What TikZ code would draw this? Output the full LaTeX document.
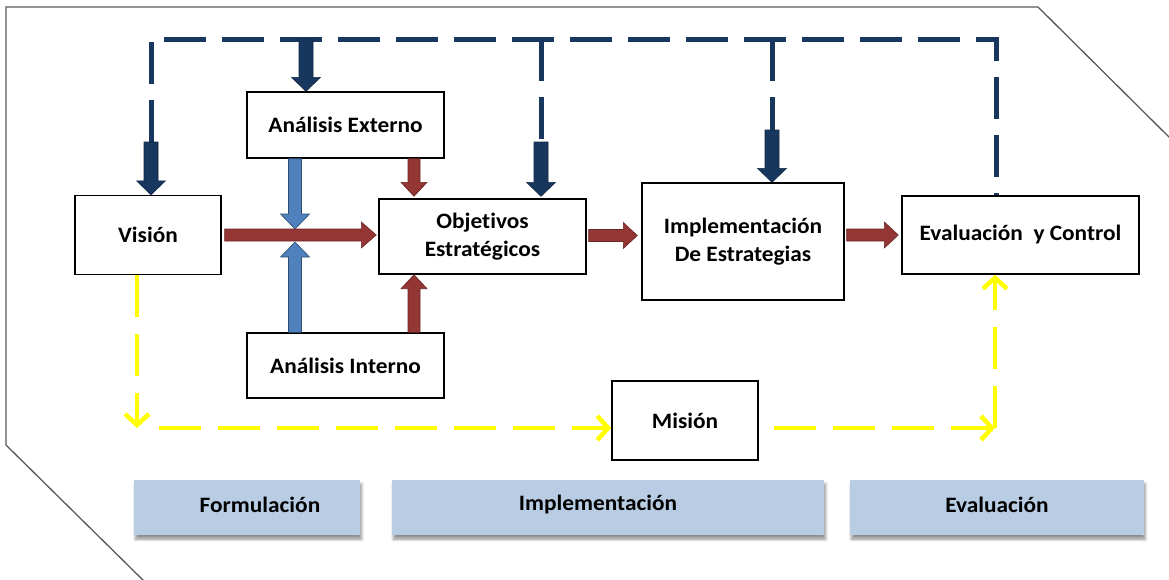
\documentclass[tikz,border=0pt]{standalone}
\usepackage{fontspec}
\setmainfont{Carlito}[FakeStretch=1.06,Ligatures=NoCommon]
\usetikzlibrary{calc,arrows.meta,shadows.blur}
\definecolor{navy}{HTML}{17375E}
\definecolor{dred}{HTML}{943634}
\definecolor{lblue}{HTML}{4F81BD}
\definecolor{barblue}{HTML}{B8CCE4}
\definecolor{yel}{HTML}{FFFF00}
\definecolor{framegray}{HTML}{595959}
% #1 style, #2 start, #3 end, #4 half shaft width, #5 half head width, #6 head length
\newcommand\blockarrow[6]{%
 \path[#1] let \p1=#2, \p2=#3, \n1={atan2(\y2-\y1,\x2-\x1)} in
 ($(\p1)+(\n1+90:#4)$) -- ($(\p2)+(\n1+180:#6)+(\n1+90:#4)$) -- ($(\p2)+(\n1+180:#6)+(\n1+90:#5)$) -- (\p2)
 -- ($(\p2)+(\n1+180:#6)+(\n1-90:#5)$) -- ($(\p2)+(\n1+180:#6)+(\n1-90:#4)$) -- ($(\p1)+(\n1-90:#4)$) -- cycle;}
\begin{document}
\begin{tikzpicture}[x=1pt,y=-1pt,
  box/.style={draw=black,line width=1.4pt,fill=white,align=center,inner sep=0pt,
    font=\fontsize{22}{28}\selectfont\bfseries},
  bar/.style={fill=barblue,inner sep=0pt,minimum height=55pt,
    blur shadow={shadow xshift=1.5pt,shadow yshift=-4pt,shadow blur radius=3pt,shadow opacity=45}},
  bartext/.style={font=\fontsize{22}{28}\selectfont\bfseries,inner sep=0pt},
  navydash/.style={draw=navy,line width=5pt,dash pattern=on 42pt off 16pt},
  yline/.style={draw=yel,line width=4.5pt,dash pattern=on 42pt off 17pt,
    -{Straight Barb[length=11pt,width=24pt]}},
  redarrow/.style={fill=dred,draw=dred!70!black,line width=0.6pt},
  bluearrow/.style={fill=lblue,draw=lblue!60!black,line width=0.6pt},
  navyarrow/.style={fill=navy,draw=navy!70!black,line width=0.6pt},
  framestyle/.style={draw=framegray,line width=1.3pt}]
\useasboundingbox (0,0) rectangle (1169,579);

% frame
\draw[framestyle] (148,585) -- (6,445) -- (6,7) -- (1038,7) -- (1176,144);

% boxes
\node[box,minimum width=146pt,minimum height=79pt] (vis) at (148,235) {Visión};
\node[box,minimum width=197pt,minimum height=66pt] (ae) at (345.5,125) {Análisis Externo};
\node[box,minimum width=197pt,minimum height=65pt] (ai) at (345.5,365.5) {Análisis Interno};
\node[box,minimum width=207pt,minimum height=75pt] (obj) at (482.5,236.5) {Objetivos\\Estratégicos};
\node[box,minimum width=202pt,minimum height=117pt] (impl) at (743,241.5) {Implementación\\De Estrategias};
\node[box,minimum width=237pt,minimum height=78pt] (ev) at (1020.5,235) {Evaluación \ y Control};
\node[box,minimum width=146pt,minimum height=79pt] (mis) at (685,420.5) {Misión};

% phase bars
\node[bar,minimum width=226pt] (fb) at (247,507.5) {};
\node[bar,minimum width=432pt] (ib) at (608,507.5) {};
\node[bar,minimum width=293.5pt] (eb) at (996.75,507.5) {};
\node[bartext] (ft) at (260,505) {Formulación};
\node[bartext] (it) at (598,505) {Implementación};
\node[bartext] (et) at (997,505) {Evaluación};

% helper coordinates
\coordinate (c1) at (151,39);
\coordinate (c2) at (996,39);
\coordinate (v1) at (151,142);
\coordinate (ob1) at (541,142);
\coordinate (im1) at (772,130);
\coordinate (ae1) at (306,39);
\coordinate (rx) at (414,236);
\coordinate (bx) at (295,236);
\coordinate (y1) at (137,428);
\coordinate (y2) at (995,428);

% navy dashed feedback
\draw[navydash] (v1) -- (c1) -- (c2) -- (c2 |- ev.north);
\draw[navydash] (ob1 |- c1) -- (ob1);
\draw[navydash] (im1 |- c1) -- (im1);

% navy block arrows
\blockarrow{navyarrow}{(v1)}{(v1 |- vis.north)}{7pt}{14.5pt}{14pt}
\blockarrow{navyarrow}{(ae1)}{(ae1 |- ae.north)}{7pt}{14.5pt}{14pt}
\blockarrow{navyarrow}{(ob1)}{($(ob1 |- obj.north)+(0,-2)$)}{7pt}{14.5pt}{14pt}
\blockarrow{navyarrow}{(im1)}{(im1 |- impl.north)}{7pt}{14.5pt}{14pt}

% blue block arrows
\blockarrow{bluearrow}{(ae.south -| bx)}{($(bx)+(0,-7)$)}{6.5pt}{14.5pt}{15pt}
\blockarrow{bluearrow}{(ai.north -| bx)}{($(bx)+(0,6)$)}{6.5pt}{14.5pt}{15pt}

% red block arrows
\blockarrow{redarrow}{($(vis.east)+(3,0)$)}{($(vis.east -| obj.west)+(-2,0)$)}{6pt}{13pt}{15pt}
\blockarrow{redarrow}{($(obj.east)+(2,-1)$)}{($(obj.east -| impl.west)+(-4,-1)$)}{6pt}{13pt}{14pt}
\blockarrow{redarrow}{($(ev.west -| impl.east)+(2,0)$)}{($(ev.west)+(-3,0)$)}{6pt}{13pt}{14pt}
\blockarrow{redarrow}{(ae.south -| rx)}{($(obj.north -| rx)+(0,-2)$)}{6pt}{13pt}{14pt}
\blockarrow{redarrow}{(ai.north -| rx)}{(obj.south -| rx)}{6pt}{13pt}{14pt}

% yellow dashed connectors
\draw[yline] (vis.south -| y1) -- (y1);
\draw[yline,shorten <=22pt] (y1) -- (y1 -| mis.west);
\draw[yline,shorten <=15pt] (y1 -| mis.east) -- (y2);
\draw[yline] (y2) -- (y2 |- ev.south);
\end{tikzpicture}
\end{document}
